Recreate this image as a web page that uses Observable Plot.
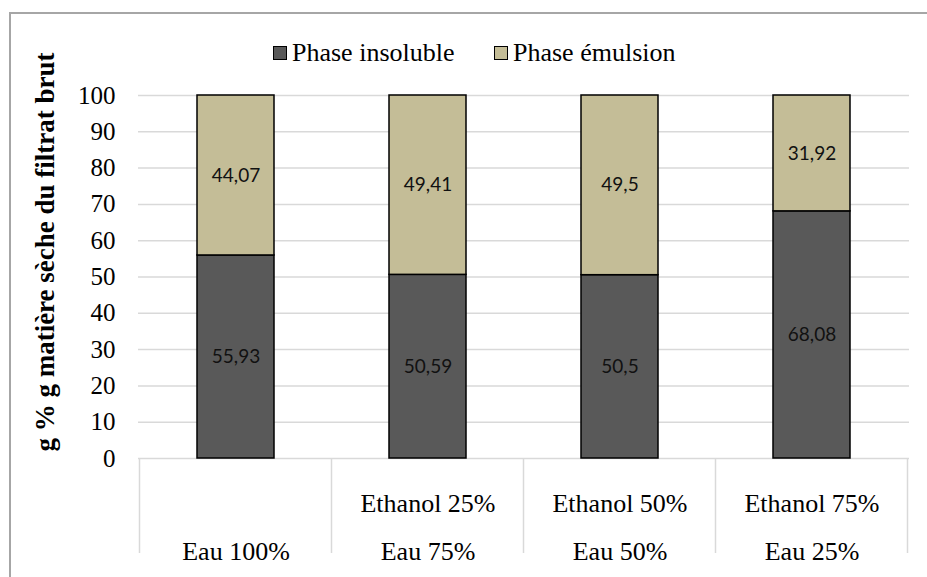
<!DOCTYPE html>
<html><head><meta charset="utf-8">
<script src="https://cdn.jsdelivr.net/npm/d3@7"></script>
<script src="https://cdn.jsdelivr.net/npm/@observablehq/plot@0.6"></script>
<style>
body{margin:0;background:#fff;overflow:hidden;}
#wrap{position:relative;width:927px;height:577px;overflow:hidden;background:#fff;}
#frame{position:absolute;left:9px;top:12px;width:1000px;height:1000px;border:2px solid #a6a6a6;box-sizing:border-box;pointer-events:none;}
#legend{position:absolute;left:0;top:0;width:927px;height:80px;font-family:'Liberation Serif','Times New Roman',serif;font-size:26px;color:#000;}
.item{position:absolute;top:40px;height:26px;line-height:26px;display:flex;align-items:center;white-space:nowrap;}
.sw{width:12px;height:12px;border:1px solid #000;margin-right:5px;}
#chart svg{display:block;}
</style></head>
<body><div id="wrap"><div id="chart"></div><div id="legend"></div><div id="frame"></div></div>
<script>
const categories = ["c1", "c2", "c3", "c4"];
const ethanolLabels = ["\u00a0", "Ethanol 25%", "Ethanol 50%", "Ethanol 75%"];
const eauLabels = ["Eau 100%", "Eau 75%", "Eau 50%", "Eau 25%"];
const series = ["Phase insoluble", "Phase émulsion"];
const insoluble = [55.93, 50.59, 50.5, 68.08];
const emulsion = [44.07, 49.41, 49.5, 31.92];
const colors = ["#595959", "#c4bd97"];
const yTicks = [0, 10, 20, 30, 40, 50, 60, 70, 80, 90, 100];
const yTitle = "g % g matière sèche du filtrat brut";

const data = [];
categories.forEach((c, i) => {
  data.push({cat: c, series: series[0], value: insoluble[i]});
  data.push({cat: c, series: series[1], value: emulsion[i]});
});
const fmt = v => String(v).replace(".", ",");

// legend
const legend = document.getElementById("legend");
const legendX = [273, 494];
series.forEach((s, i) => {
  const it = document.createElement("div");
  it.className = "item";
  it.style.left = legendX[i] + "px";
  it.innerHTML = `<span class="sw" style="background:${colors[i]}"></span><span>${s}</span>`;
  legend.appendChild(it);
});

const serif = "'Liberation Serif','Times New Roman',serif";
const chart = Plot.plot({
  width: 927,
  height: 577,
  marginTop: 95,
  marginBottom: 119,
  marginLeft: 138,
  marginRight: 18,
  style: {fontFamily: serif, fontSize: "25px", color: "#000", background: "transparent"},
  x: {type: "band", domain: categories, paddingInner: 0.6, paddingOuter: 0.3},
  y: {domain: [0, 100]},
  color: {domain: series, range: colors},
  marks: [
    Plot.ruleY(yTicks, {stroke: "#d9d9d9", strokeWidth: 1.5}),
    Plot.barY(data, {x: "cat", y: "value", z: "series", fill: "series", stroke: "#000", strokeWidth: 1.5}),
    Plot.text(data, Plot.stackY({x: "cat", y: "value", z: "series", text: d => fmt(d.value),
      fontFamily: "Lato, 'Open Sans', sans-serif", fontSize: 19, fill: "#111"})),
    Plot.axisY(yTicks, {tickSize: 0, tickPadding: 23, label: null, fontSize: 25}),
    Plot.axisX({tickSize: 0, tickPadding: 20, label: null, fontSize: 26, lineHeight: 1.83,
      tickFormat: d => ethanolLabels[categories.indexOf(d)] + "\n" + eauLabels[categories.indexOf(d)]}),
    Plot.text([yTitle], {frameAnchor: "left", textAnchor: "middle", rotate: -90, dx: -93, dy: -25,
      fontWeight: "bold", fontSize: 27, fill: "#000"})
  ]
});
document.getElementById("chart").appendChild(chart);

// category table dividers, positioned through Plot's own scales
const sx = chart.scale("x");
const sy = chart.scale("y");
const left0 = sx.apply(categories[0]);
const step = sx.apply(categories[1]) - left0;
const bw = sx.bandwidth;
const y0 = sy.apply(0);
const edges = categories.map(c => sx.apply(c) - (step - bw) / 2);
edges.push(sx.apply(categories[categories.length - 1]) + bw + (step - bw) / 2);
const g = d3.select(chart).append("g").attr("stroke", "#d9d9d9").attr("stroke-width", 1.5);
edges.forEach(e => {
  g.append("line").attr("x1", e).attr("x2", e).attr("y1", y0).attr("y2", y0 + 95);
});
</script></body></html>
